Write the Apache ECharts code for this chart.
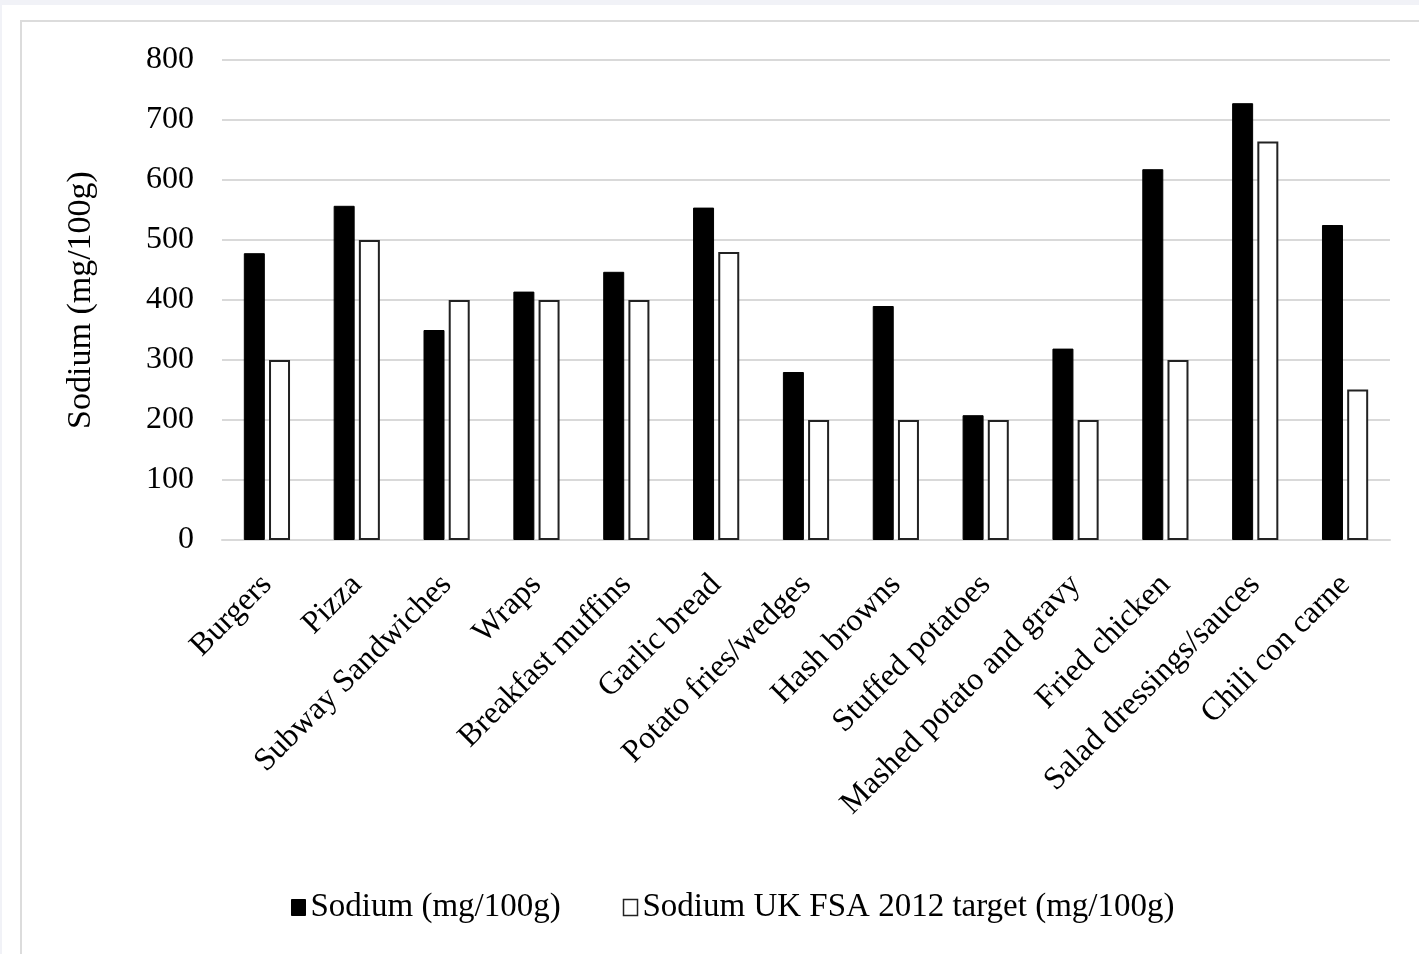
<!DOCTYPE html>
<html>
<head>
<meta charset="utf-8">
<script src="https://cdn.jsdelivr.net/npm/echarts@6/dist/echarts.min.js"></script>
<style>
  html, body { margin: 0; padding: 0; width: 1419px; height: 954px; overflow: hidden; background: #f1f2f7; }
  #sheet { position: absolute; left: 2px; top: 5px; width: 1417px; height: 949px; background: #ffffff; }
  #frame { position: absolute; left: 18px; top: 15px; width: 1420px; height: 960px;
           border-top: 2px solid #dcdcdc; border-left: 2px solid #dcdcdc; background: #ffffff; }
  #chart { position: absolute; left: 0; top: 0; width: 1419px; height: 954px; }
</style>
</head>
<body>
<div id="sheet"><div id="frame"></div></div>
<div id="chart"></div>
<script>
// Fast-food product categories
const categories = [
  'Burgers', 'Pizza', 'Subway Sandwiches', 'Wraps', 'Breakfast muffins',
  'Garlic bread', 'Potato fries/wedges', 'Hash browns', 'Stuffed potatoes',
  'Mashed potato and gravy', 'Fried chicken', 'Salad dressings/sauces', 'Chili con carne'
];

// Mean sodium content (mg/100g)
const sodium = [478, 557, 350, 414, 447, 554, 280, 390, 208, 319, 618, 728, 525];

// UK FSA 2012 sodium targets (mg/100g)
const fsaTarget = [300, 500, 400, 400, 400, 480, 200, 200, 200, 200, 300, 664, 251];

const seriesNames = ['Sodium (mg/100g)', 'Sodium UK FSA 2012 target (mg/100g)'];
const yTicks = { min: 0, max: 800, interval: 100 };
const yAxisTitle = 'Sodium (mg/100g)';

const FONT = '"Liberation Serif", "Times New Roman", serif';

const chart = echarts.init(document.getElementById('chart'), null, { renderer: 'canvas' });
chart.setOption({
  backgroundColor: 'transparent',
  animation: false,
  grid: { left: 222, right: 29, top: 60, bottom: 414, containLabel: false },
  legend: {
    left: 286,
    top: 886,
    itemGap: 62,
    itemWidth: 14,
    itemHeight: 16,
    textStyle: { fontFamily: FONT, fontSize: 33, color: '#000' },
    data: [
      { name: seriesNames[0], icon: 'rect', itemStyle: { color: '#000', borderColor: '#000', borderWidth: 1 } },
      { name: seriesNames[1], icon: 'rect', itemStyle: { color: '#fff', borderColor: '#222', borderWidth: 1.5 } }
    ]
  },
  xAxis: {
    type: 'category',
    data: categories,
    axisLine: { show: true, lineStyle: { color: '#d9d9d9', width: 2 } },
    axisTick: { show: false },
    axisLabel: {
      interval: 0,
      rotate: 45,
      margin: 40,
      fontFamily: FONT,
      fontSize: 32,
      color: '#000'
    }
  },
  yAxis: {
    type: 'value',
    min: yTicks.min,
    max: yTicks.max,
    interval: yTicks.interval,
    name: yAxisTitle,
    nameLocation: 'middle',
    nameGap: 124,
    nameRotate: 90,
    nameTextStyle: { fontFamily: FONT, fontSize: 34, color: '#000' },
    axisLine: { show: false },
    axisTick: { show: false },
    axisLabel: { margin: 28, fontFamily: FONT, fontSize: 32, color: '#000' },
    splitLine: { lineStyle: { color: '#d9d9d9', width: 2 } }
  },
  series: [
    {
      name: seriesNames[0],
      type: 'bar',
      data: sodium,
      barWidth: 21,
      barGap: '20%',
      itemStyle: { color: '#000', borderColor: '#000', borderWidth: 1 }
    },
    {
      name: seriesNames[1],
      type: 'bar',
      data: fsaTarget,
      barWidth: 21,
      barGap: '20%',
      itemStyle: { color: '#fff', borderColor: '#222', borderWidth: 2 }
    }
  ]
});
</script>
</body>
</html>
